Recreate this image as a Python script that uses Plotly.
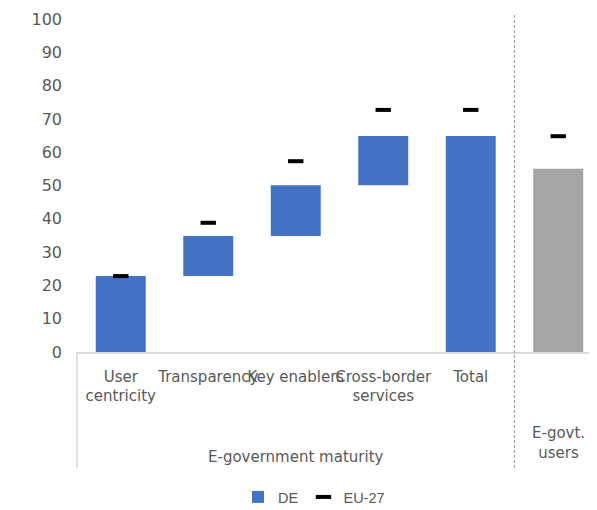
import numpy as np
import plotly.graph_objects as go

# ---- data ----
categories = ["User<br>centricity", "Transparency", "Key enablers", "Cross-border<br>services", "Total", "E-govt. users"]
tick_labels = ["User<br>centricity", "Transparency", "Key enablers", "Cross-border<br>services", "Total", ""]
groups = ["E-government maturity"] * 5 + ["E-govt.<br>users"]
de_contrib = [22.8, 12.0, 15.3, 14.8]          # maturity components (stacked)
de_users = [55.0]                              # e-govt users (DE)
eu_markers = [22.8, 38.8, 57.3, 72.7, 72.7, 64.8]  # EU-27 reference
y_ticks = list(range(0, 101, 10))

# ---- derived ----
cum = np.cumsum(de_contrib)
bases = list(np.concatenate([[0], cum[:-1]])) + [0]
heights = list(de_contrib) + [float(cum[-1])]
blue_x = categories[:5]

BLUE = "#4472c4"
GREY = "#a5a5a5"
TXT = "#595959"
FONT = "DejaVu Sans"

# page body has an 8px margin: size the figure to fit the 597x510 window
W, H = 597 - 8, 510 - 8
ML, MT, MB = 77 - 8, 19 - 8, 158
plot_h = H - MT - MB
plot_w = W - ML

fig = go.Figure()
fig.add_trace(go.Bar(
    x=blue_x, y=heights, base=bases, name="DE",
    marker=dict(color=BLUE, line=dict(width=0)), width=0.571,
))
fig.add_trace(go.Bar(
    x=categories[5:], y=de_users, name="DE users", showlegend=False,
    marker=dict(color=GREY, line=dict(width=0)), width=0.571,
))
fig.add_trace(go.Scatter(
    x=categories, y=eu_markers, name="EU-27", mode="markers",
    marker=dict(symbol="line-ew", size=11, line=dict(width=4, color="black"), color="black"),
))

# group labels centred on their categories
idx = np.arange(len(categories))
annotations = []
for g in dict.fromkeys(groups):
    members = idx[[gg == g for gg in groups]]
    center = float(members.mean())
    if g == "E-government maturity":
        yc = (352 - 457) / plot_h
    else:
        yc = (352 - 443) / plot_h
    annotations.append(dict(
        x=center, xref="x", y=yc, yref="paper", text=g, showarrow=False,
        font=dict(family=FONT, size=15, color=TXT), yanchor="middle", xanchor="center",
    ))

bottom = -(468 - 352) / plot_h
top_dash = (352 - 15) / plot_h
split = float(idx[[gg != groups[0] for gg in groups]][0]) - 0.5

shapes = [
    dict(type="line", xref="x domain", yref="paper", x0=0, x1=0, y0=0, y1=bottom,
         line=dict(color="#d9d9d9", width=1.5)),
    dict(type="line", xref="x", yref="paper", x0=split, x1=split, y0=bottom, y1=top_dash,
         line=dict(color="#a6a6a6", width=1.2, dash="3px,2px")),
]

fig.update_layout(
    width=W, height=H,
    margin=dict(l=ML, r=0, t=MT, b=MB, autoexpand=False),
    paper_bgcolor="white", plot_bgcolor="white",
    barmode="overlay",
    font=dict(family=FONT, size=15, color=TXT),
    showlegend=True,
    legend=dict(orientation="h", x=(314 - 77) / plot_w, xanchor="center",
                y=(352 - 497) / plot_h, yanchor="middle",
                font=dict(family="Liberation Sans", size=14.5, color=TXT),
                itemwidth=30, tracegroupgap=0),
    annotations=annotations,
    shapes=shapes,
    xaxis=dict(type="category", categoryorder="array", categoryarray=categories,
               tickvals=categories, ticktext=tick_labels,
               range=[-0.5, 5.443], showgrid=False, showline=True,
               linecolor="#d9d9d9", linewidth=1.5, ticks="", tickangle=0,
               tickfont=dict(family=FONT, size=15, color=TXT),
               ticklabelstandoff=10, zeroline=False, automargin=False),
    yaxis=dict(range=[0, 100], tickvals=y_ticks, showgrid=False, showline=False,
               zeroline=False, ticks="", ticklabelstandoff=14, automargin=False,
               tickfont=dict(family=FONT, size=16, color=TXT)),
)

fig.write_html("out.html")
